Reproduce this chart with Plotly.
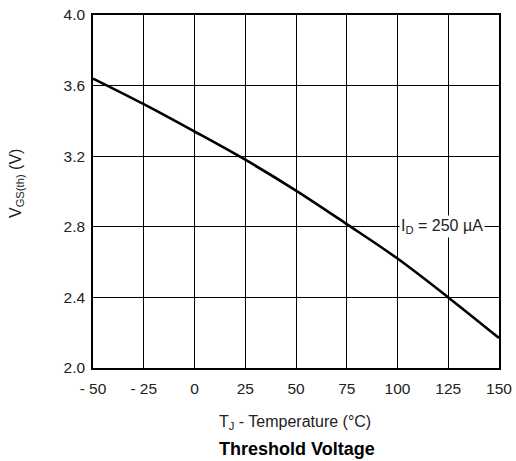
import plotly.graph_objects as go

temps = [-50, -25, 0, 25, 50, 75, 100, 125, 150]
vgs_th = [3.64, 3.495, 3.34, 3.18, 3.005, 2.815, 2.62, 2.40, 2.17]
x_ticks = [-50, -25, 0, 25, 50, 75, 100, 125, 150]
x_tick_labels = ["- 50", "- 25", "0", "25", "50", "75", "100", "125", "150"]
y_ticks = [2.0, 2.4, 2.8, 3.2, 3.6, 4.0]
y_tick_labels = ["2.0", "2.4", "2.8", "3.2", "3.6", "4.0"]

font_family = "Liberation Sans, Arial, sans-serif"
plot_h = 461 - 15 - 93
plot_w = 516 - 93 - 17

fig = go.Figure()
fig.add_trace(go.Scatter(x=temps, y=vgs_th, mode="lines",
                         line=dict(color="black", width=2.6, shape="spline"),
                         showlegend=False, hoverinfo="skip"))

fig.update_layout(
    width=516, height=461,
    margin=dict(l=93, r=17, t=15, b=93, autoexpand=False),
    paper_bgcolor="white", plot_bgcolor="white",
    font=dict(family=font_family, size=16, color="#222"),
    xaxis=dict(range=[-50, 150], tickvals=x_ticks, ticktext=x_tick_labels,
               showgrid=True, gridcolor="black", gridwidth=1.2,
               showline=True, linecolor="black", linewidth=1.5, mirror=True,
               ticks="", zeroline=False, tickfont=dict(size=15.5), ticklabelstandoff=6),
    yaxis=dict(range=[2.0, 4.0], tickvals=y_ticks, ticktext=y_tick_labels,
               showgrid=True, gridcolor="black", gridwidth=1.2,
               showline=True, linecolor="black", linewidth=1.5, mirror=True,
               ticks="", zeroline=False, tickfont=dict(size=15.5), ticklabelstandoff=3),
    annotations=[
        dict(x=(16 - 93) / plot_w, y=(368 - 184) / plot_h, xref="paper", yref="paper",
             xanchor="center", yanchor="middle",
             text="V<sub>GS(th)</sub> (V)", textangle=-90, showarrow=False,
             font=dict(size=16)),
        dict(x=122, y=2.8, xref="x", yref="y", text="I<sub>D</sub> = 250 µA",
             showarrow=False, bgcolor="white", font=dict(size=16), borderpad=1),
        dict(x=(295 - 93) / plot_w, y=(368 - 422) / plot_h, xref="paper", yref="paper",
             yanchor="middle",
             text="T<sub>J</sub> - Temperature (°C)", showarrow=False, font=dict(size=16)),
        dict(x=(297 - 93) / plot_w, y=(368 - 449) / plot_h, xref="paper", yref="paper",
             yanchor="middle",
             text="<b>Threshold Voltage</b>", showarrow=False, font=dict(size=18, color="black")),
    ],
)

fig.write_html("out.html", config={"displayModeBar": False},
               post_script="document.body.style.margin='0';document.body.style.overflow='hidden';")
